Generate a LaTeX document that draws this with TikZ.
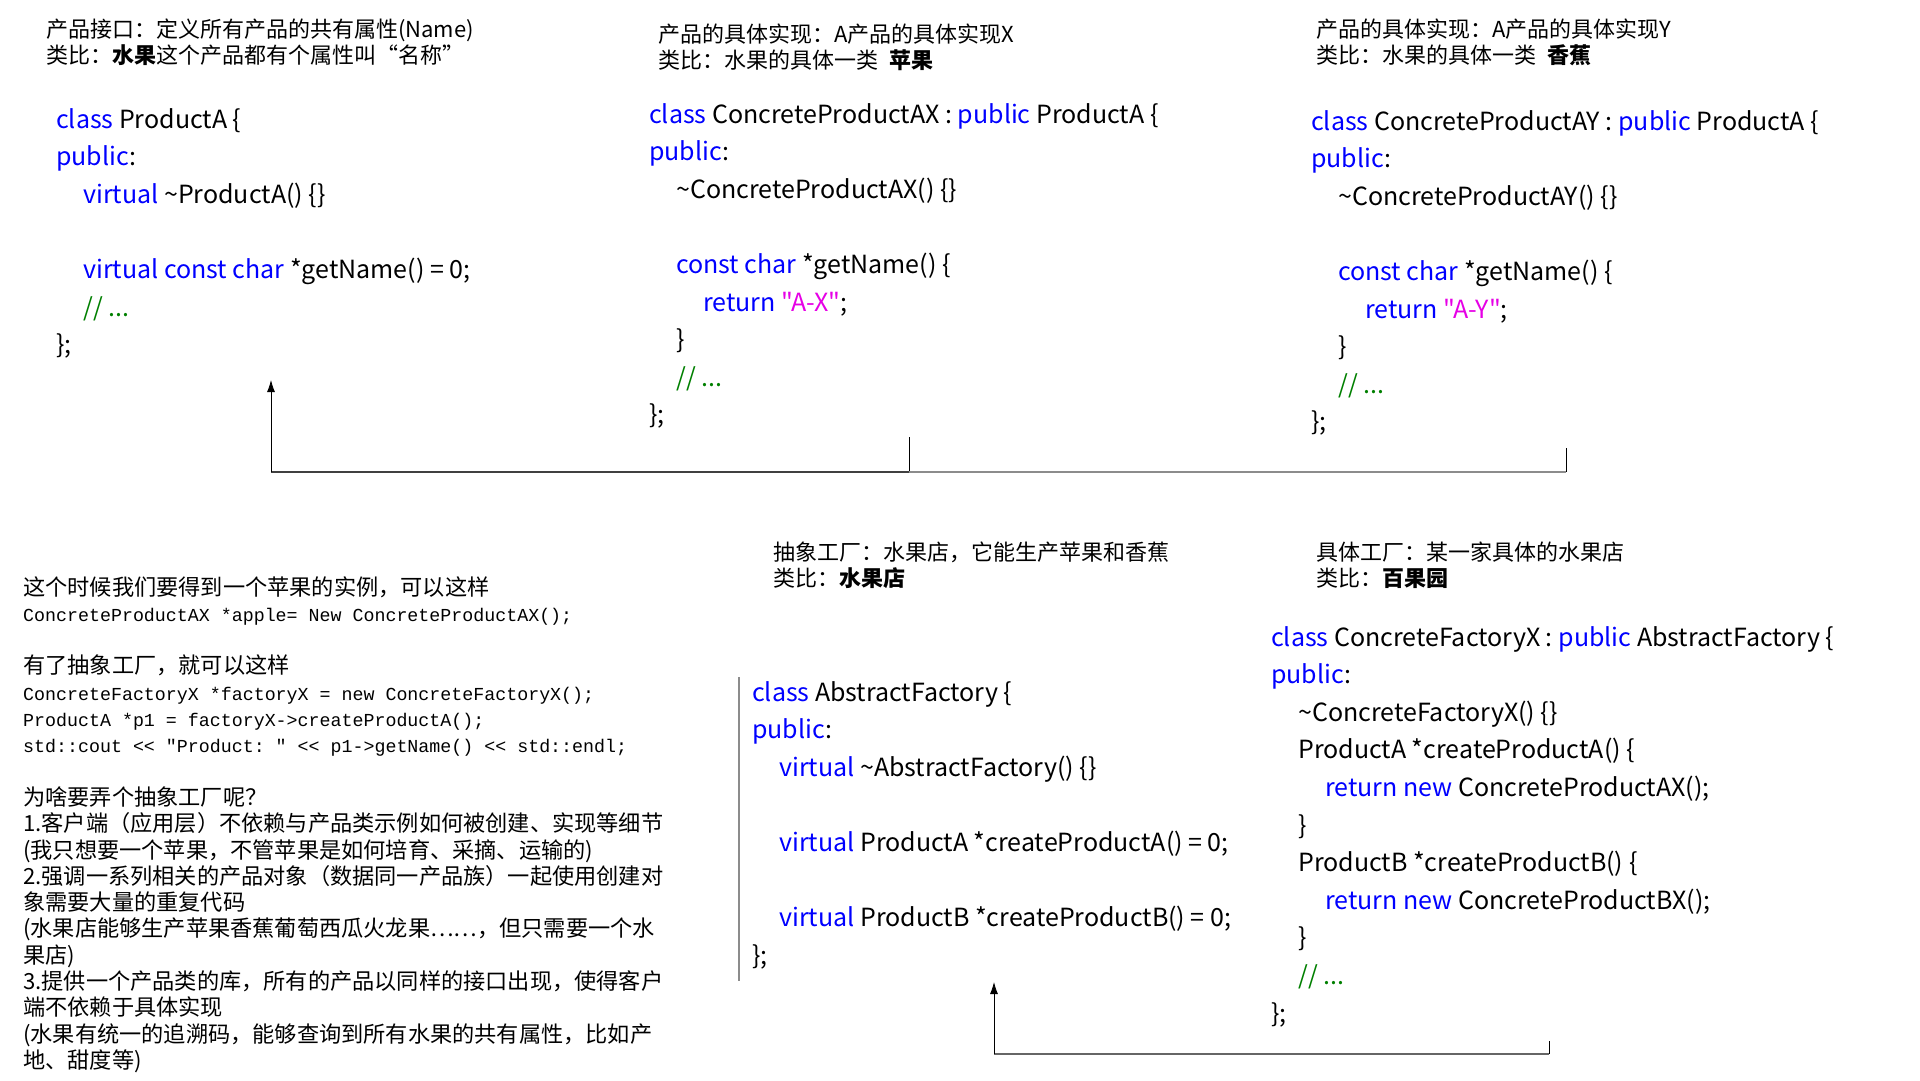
\documentclass[tikz,border=0pt]{standalone}
\usepackage{fontspec}
\setmainfont{Noto Sans CJK SC}
\setmonofont{Liberation Mono}
\newfontfamily\codefont{Noto Sans CJK SC}[Ligatures=TeXOff]
\usetikzlibrary{arrows.meta}
\definecolor{kwblue}{RGB}{0,0,255}
\definecolor{strpink}{RGB}{230,0,230}
\definecolor{cmtgreen}{RGB}{0,128,0}
\definecolor{busdark}{RGB}{64,64,64}
\definecolor{buslight}{RGB}{140,140,140}
\newcommand\kwd[1]{\textcolor{kwblue}{#1}}
\newcommand\strlit[1]{\textcolor{strpink}{"#1"}}
\newcommand\cmnt[1]{\textcolor{cmtgreen}{#1}}
\newcommand\codeind{\hspace*{27pt}}
\newcommand\tld{\textasciitilde}
\newcommand\ttline[1]{{\ttfamily\fontsize{18.3}{26.3}\selectfont #1}}
\tikzset{>={Latex[length=12pt,width=8pt]}}
% nodes are placed by the baseline of their LAST line
\tikzset{code/.style={anchor=base west,inner sep=0pt,align=left,font=\codefont\fontsize{25}{37.6}\selectfont},
  note/.style={anchor=base west,inner sep=0pt,align=left,font=\fontsize{22}{26.5}\selectfont},
  bus/.style={line width=2.5pt},
  riser/.style={line width=0.8pt}}

\begin{document}
\begin{tikzpicture}[x=1pt,y=-1pt]
\path[fill=white,use as bounding box] (0,0) rectangle (1920,1080);

% headers
\node[note] (h1) at (46,63.5) {产品接口：定义所有产品的共有属性(Name)\\类比：\textbf{水果}这个产品都有个属性叫“名称”};
\node[note] (h2) at (658,68.5) {产品的具体实现：A产品的具体实现X\\类比：水果的具体一类\hspace{0.5em}\textbf{苹果}};
\node[note] (h3) at (1316,63.5) {产品的具体实现：A产品的具体实现Y\\类比：水果的具体一类\hspace{0.5em}\textbf{香蕉}};
\node[note] (h4) at (773,586.5) {抽象工厂：水果店，它能生产苹果和香蕉\\类比：\textbf{水果店}};
\node[note] (h5) at (1316,586.5) {具体工厂：某一家具体的水果店\\类比：\textbf{百果园}};

% product classes
\node[code] (pa) at (56,353.6) {\kwd{class} ProductA \{\\
\kwd{public}:\\
\codeind\kwd{virtual} \tld{}ProductA() \{\}\\
\mbox{}\\
\codeind\kwd{virtual const char} *getName() = 0;\\
\codeind\cmnt{// ...}\\
\};};
\node[code] (ax) at (649,423.8) {\kwd{class} ConcreteProductAX : \kwd{public} ProductA \{\\
\kwd{public}:\\
\codeind\tld{}ConcreteProductAX() \{\}\\
\mbox{}\\
\codeind\kwd{const char} *getName() \{\\
\codeind\codeind\kwd{return} \strlit{A-X};\\
\codeind\}\\
\codeind\cmnt{// ...}\\
\};};
\node[code] (ay) at (1311,430.8) {\kwd{class} ConcreteProductAY : \kwd{public} ProductA \{\\
\kwd{public}:\\
\codeind\tld{}ConcreteProductAY() \{\}\\
\mbox{}\\
\codeind\kwd{const char} *getName() \{\\
\codeind\codeind\kwd{return} \strlit{A-Y};\\
\codeind\}\\
\codeind\cmnt{// ...}\\
\};};

% factories
\node[code] (af) at (752,964.2) {\kwd{class} AbstractFactory \{\\
\kwd{public}:\\
\codeind\kwd{virtual} \tld{}AbstractFactory() \{\}\\
\mbox{}\\
\codeind\kwd{virtual} ProductA *createProductA() = 0;\\
\mbox{}\\
\codeind\kwd{virtual} ProductB *createProductB() = 0;\\
\};};
\node[code] (cfx) at (1271,1022) {\kwd{class} ConcreteFactoryX : \kwd{public} AbstractFactory \{\\
\kwd{public}:\\
\codeind\tld{}ConcreteFactoryX() \{\}\\
\codeind ProductA *createProductA() \{\\
\codeind\codeind\kwd{return new} ConcreteProductAX();\\
\codeind\}\\
\codeind ProductB *createProductB() \{\\
\codeind\codeind\kwd{return new} ConcreteProductBX();\\
\codeind\}\\
\codeind\cmnt{// ...}\\
\};};

% usage notes
\node[note,font=\fontsize{22.2}{26.3}\selectfont] (usage) at (23,1068.4) {这个时候我们要得到一个苹果的实例，可以这样\\
\ttline{ConcreteProductAX *apple= New ConcreteProductAX();}\\
\mbox{}\\
有了抽象工厂，就可以这样\\
\ttline{ConcreteFactoryX *factoryX = new ConcreteFactoryX();}\\
\ttline{ProductA *p1 = factoryX->createProductA();}\\
\ttline{std::cout << "Product: " << p1->getName() << std::endl;}\\
\mbox{}\\
为啥要弄个抽象工厂呢？\\
1.客户端（应用层）不依赖与产品类示例如何被创建、实现等细节\\
(我只想要一个苹果，不管苹果是如何培育、采摘、运输的)\\
2.强调一系列相关的产品对象（数据同一产品族）一起使用创建对\\
象需要大量的重复代码\\
(水果店能够生产苹果香蕉葡萄西瓜火龙果……，但只需要一个水\\
果店)\\
3.提供一个产品类的库，所有的产品以同样的接口出现，使得客户\\
端不依赖于具体实现\\
(水果有统一的追溯码，能够查询到所有水果的共有属性，比如产\\
地、甜度等)};

% inheritance: products
\coordinate (paTip) at (271,380);
\coordinate (axFoot) at (909,437);
\coordinate (ayFoot) at (1566,448);
\coordinate (topBus) at (909,472);
\coordinate (paCorner) at (paTip |- topBus);
\draw[riser] (axFoot) -- (topBus);
\draw[riser] (ayFoot) -- (ayFoot |- topBus);
\draw[bus,busdark] (topBus) -- (paCorner);
\draw[bus,buslight] (ayFoot |- topBus) -- (topBus);
\draw[riser,->] (paCorner) -- (paTip);

% inheritance: factories
\coordinate (afTip) at (994,982);
\coordinate (cfxFoot) at (1549,1041);
\coordinate (botBus) at (cfxFoot |- 0,1054);
\coordinate (afCorner) at (afTip |- botBus);
\draw[riser] (cfxFoot) -- (botBus);
\draw[bus,busdark!80] (botBus) -- (afCorner);
\draw[riser,->] (afCorner) -- (afTip);

% side bar
\coordinate (barTop) at (739,677);
\coordinate (barBot) at (739,981);
\draw[buslight,line width=2pt] (barTop) -- (barBot);
\end{tikzpicture}
\end{document}
